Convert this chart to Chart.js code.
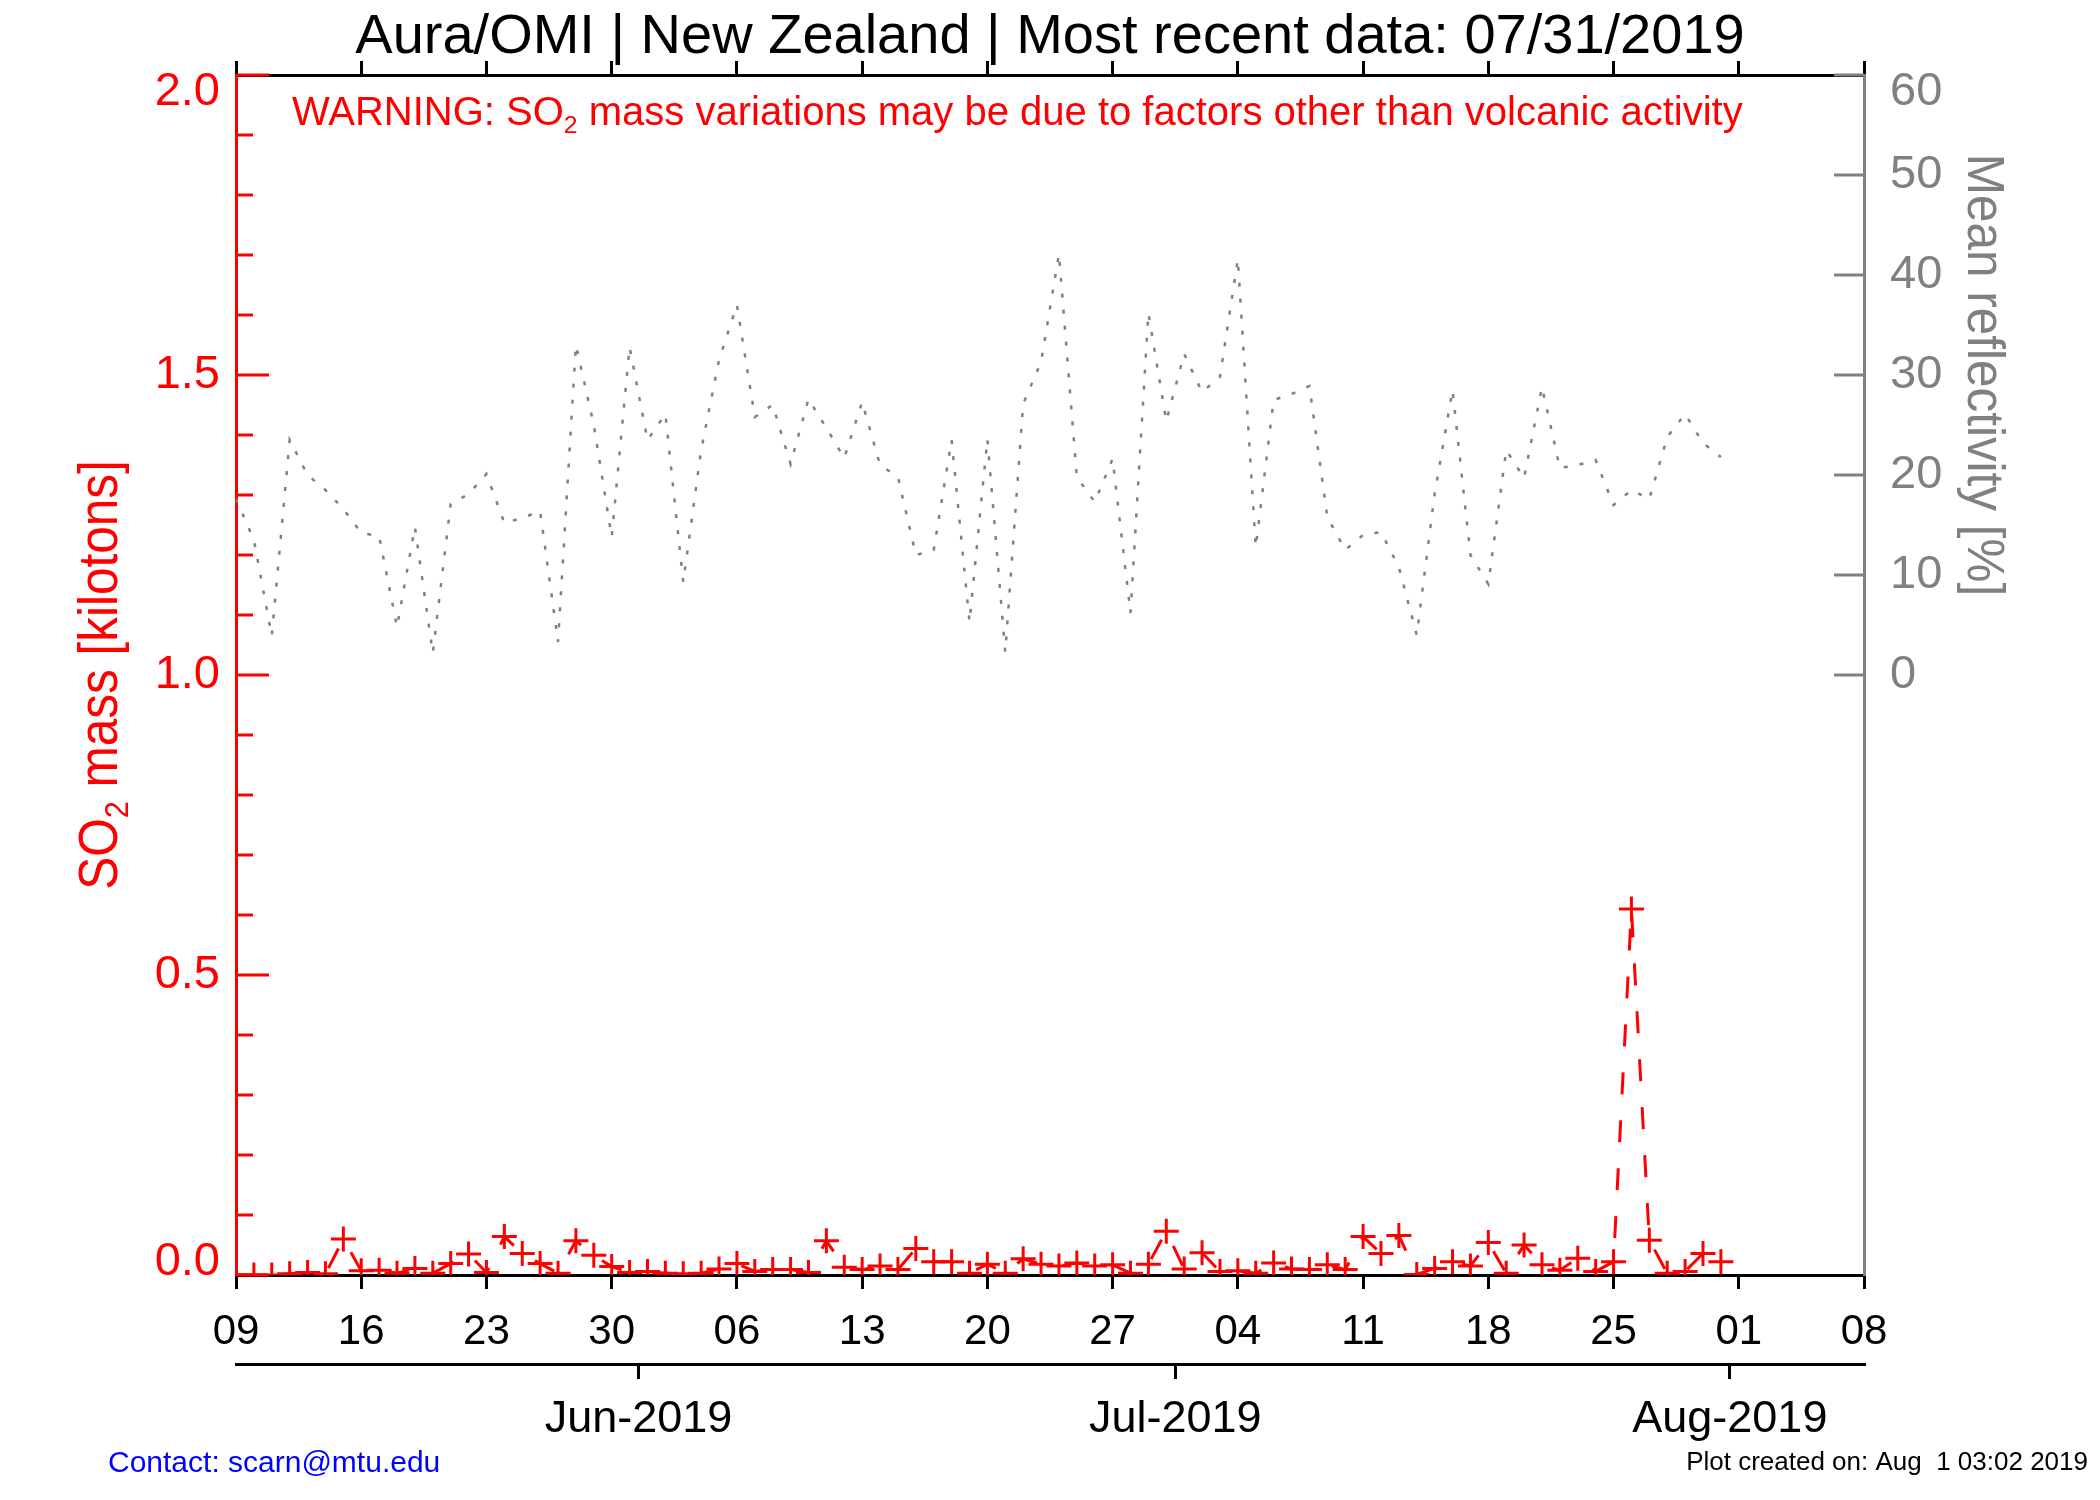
<!DOCTYPE html>
<html>
<head>
<meta charset="utf-8">
<script src="https://cdn.jsdelivr.net/npm/chart.js@4.4.1/dist/chart.umd.min.js"></script>
<style>
  html, body { margin: 0; padding: 0; background: #fff; }
  #wrap { width: 2100px; height: 1500px; }
</style>
</head>
<body>
<div id="wrap"><canvas id="so2Chart" width="2100" height="1500"></canvas></div>
<script>
// daily values, first day = 09 May 2019
const startDate = [2019, 4, 9];
const so2Mass = [0.0, 0.0, 0.0, 0.002, 0.004, 0.002, 0.060, 0.007, 0.008, 0.003,
  0.011, 0.003, 0.019, 0.035, 0.004, 0.064, 0.036, 0.019, 0.003, 0.057,
  0.033, 0.014, 0.004, 0.006, 0.003, 0.002, 0.003, 0.010, 0.019, 0.006,
  0.009, 0.009, 0.004, 0.057, 0.013, 0.009, 0.015, 0.009, 0.044, 0.022,
  0.022, 0.003, 0.018, 0.003, 0.027, 0.018, 0.015, 0.020, 0.015, 0.017,
  0.003, 0.018, 0.073, 0.010, 0.037, 0.006, 0.007, 0.003, 0.020, 0.010,
  0.009, 0.017, 0.009, 0.064, 0.036, 0.066, 0.001, 0.011, 0.022, 0.015,
  0.054, 0.003, 0.050, 0.017, 0.008, 0.028, 0.006, 0.022, 0.610, 0.058,
  0.003, 0.006, 0.036, 0.022];
const reflectivity = [17.6, 13.5, 3.9, 23.5, 20.0, 18.5, 16.6, 14.2, 13.9, 4.8,
  14.8, 2.2, 17.1, 18.1, 20.1, 15.2, 15.7, 16.4, 3.3, 33.0,
  25.0, 13.8, 32.8, 23.5, 26.1, 9.3, 22.5, 31.5, 37.0, 25.8,
  27.0, 21.1, 27.6, 24.7, 21.7, 27.3, 21.0, 19.8, 12.0, 12.5,
  23.5, 5.3, 23.6, 2.3, 27.1, 31.3, 42.1, 19.8, 17.3, 21.6,
  6.2, 36.2, 25.4, 32.1, 28.3, 29.8, 41.6, 12.8, 27.5, 28.1,
  28.9, 15.8, 12.5, 14.0, 14.3, 10.8, 4.0, 18.1, 28.5, 12.0,
  9.1, 22.5, 19.7, 28.8, 20.7, 21.0, 21.5, 17.0, 18.5, 17.6,
  23.8, 26.1, 23.2, 21.8];
const dayIndex = so2Mass.map((_, i) => i);

// axis ticks (days since start)
const dayRange = [0, 91];
const monthTicks = [22.5, 52.5, 83.5];
const monthLabels = ['Jun-2019', 'Jul-2019', 'Aug-2019'];
const reflTicks = [0, 10, 20, 30, 40, 50, 60];

const FONT = '"Liberation Sans", Arial, sans-serif';
const RED = '#ff0000';
const GREY = '#808080';

function dayLabel(v) {
  const d = new Date(startDate[0], startDate[1], startDate[2] + v);
  return String(d.getDate()).padStart(2, '0');
}

// text with a subscript part, drawn at origin of the current transform
function richText(ctx, parts, size, color, align, squeeze) {
  const sub = size * 0.62;
  const ws = [];
  let w = 0;
  parts.forEach(([t, isSub]) => {
    ctx.font = (isSub ? sub : size) + 'px ' + FONT;
    const m = ctx.measureText(t).width;
    ws.push(m); w += m;
  });
  ctx.save();
  ctx.scale(squeeze || 1, 1);
  let x = align === 'center' ? -w / 2 : align === 'right' ? -w : 0;
  ctx.fillStyle = color;
  ctx.textAlign = 'left';
  ctx.textBaseline = 'alphabetic';
  parts.forEach(([t, isSub], i) => {
    ctx.font = (isSub ? sub : size) + 'px ' + FONT;
    ctx.fillText(t, x, isSub ? size * 0.2 : 0);
    x += ws[i];
  });
  ctx.restore();
}

const decor = {
  id: 'decor',
  afterDraw(chart) {
    const ctx = chart.ctx;
    const area = chart.chartArea;
    const y = chart.scales.y;
    const y2 = chart.scales.y2;
    ctx.save();

    // left axis: ticks point inward, long ones every 0.5
    ctx.strokeStyle = RED;
    ctx.lineWidth = 3;
    ctx.fillStyle = RED;
    ctx.font = '47px ' + FONT;
    ctx.textAlign = 'right';
    ctx.textBaseline = 'middle';
    y.ticks.forEach((t, i) => {
      const py = y.getPixelForValue(t.value);
      const major = Math.abs(t.value * 2 - Math.round(t.value * 2)) < 1e-6;
      ctx.beginPath();
      ctx.moveTo(area.left, py);
      ctx.lineTo(area.left + (major ? 33 : 17), py);
      ctx.stroke();
      if (major) {
        let off = 0;
        if (i === 0) off = -13;
        if (i === y.ticks.length - 1) off = 17;
        ctx.fillText(t.value.toFixed(1), area.left - 16, py + off);
      }
    });

    // right axis
    ctx.strokeStyle = GREY;
    ctx.fillStyle = GREY;
    ctx.textAlign = 'left';
    y2.ticks.forEach((t, i) => {
      const py = y2.getPixelForValue(t.value);
      ctx.beginPath();
      ctx.moveTo(area.right, py);
      ctx.lineTo(area.right - 30, py);
      ctx.stroke();
      const off = i === y2.ticks.length - 1 ? 17 : 0;
      ctx.fillText(String(t.value), area.right + 26, py + off);
    });

    // title and warning
    ctx.save();
    ctx.translate(1050, 53);
    richText(ctx, [['Aura/OMI | New Zealand | Most recent data: 07/31/2019', false]], 56, '#000', 'center');
    ctx.restore();

    ctx.save();
    ctx.translate(292, 125);
    richText(ctx, [['WARNING: SO', false], ['2', true],
      [' mass variations may be due to factors other than volcanic activity', false]], 40, RED, 'left');
    ctx.restore();

    // axis titles
    ctx.save();
    ctx.translate(117, (area.top + area.bottom) / 2);
    ctx.rotate(-Math.PI / 2);
    richText(ctx, [['SO', false], ['2', true], [' mass [kilotons]', false]], 55, RED, 'center', 0.9);
    ctx.restore();

    ctx.save();
    const r0 = y2.getPixelForValue(0), r60 = y2.getPixelForValue(60);
    ctx.translate(1968, (r0 + r60) / 2);
    ctx.rotate(Math.PI / 2);
    richText(ctx, [['Mean reflectivity [%]', false]], 51, GREY, 'center', 0.97);
    ctx.restore();

    // footer
    ctx.save();
    ctx.translate(108, 1472);
    richText(ctx, [['Contact: scarn@mtu.edu', false]], 30, '#0000ff', 'left');
    ctx.restore();
    ctx.save();
    ctx.translate(2088, 1470);
    richText(ctx, [['Plot created on: Aug  1 03:02 2019', false]], 26, '#000', 'right');
    ctx.restore();

    ctx.restore();
  }
};

const so2Chart = new Chart(document.getElementById('so2Chart'), {
  type: 'line',
  data: {
    datasets: [{
      label: 'SO2 mass',
      data: dayIndex.map((d, i) => ({ x: d, y: so2Mass[i] })),
      xAxisID: 'x',
      yAxisID: 'y',
      borderColor: RED,
      borderWidth: 3,
      borderDash: [22, 26],
      pointStyle: 'cross',
      pointRadius: 12.5,
      pointBorderWidth: 3,
      pointBorderColor: RED,
      tension: 0
    }, {
      label: 'Mean reflectivity',
      data: dayIndex.map((d, i) => ({ x: d, y: reflectivity[i] })),
      xAxisID: 'x',
      yAxisID: 'y2',
      borderColor: GREY,
      borderWidth: 2.5,
      borderDash: [4, 12],
      pointRadius: 0,
      tension: 0
    }]
  },
  options: {
    responsive: false,
    animation: false,
    devicePixelRatio: 1,
    layout: { padding: { top: 61, left: 0, right: 0, bottom: 0 } },
    plugins: { legend: { display: false }, tooltip: { enabled: false }, title: { display: false } },
    scales: {
      x: {
        type: 'linear', position: 'bottom', min: dayRange[0], max: dayRange[1],
        ticks: { stepSize: 7, color: '#000', font: { family: FONT, size: 42 }, padding: 18,
          maxRotation: 0, autoSkip: false, callback: v => dayLabel(v) },
        grid: { drawOnChartArea: false, tickLength: 14, color: '#000', lineWidth: 3 },
        border: { color: '#000', width: 3 },
        afterFit: s => { s.height = 89; }
      },
      xMonth: {
        type: 'linear', position: 'bottom', min: dayRange[0], max: dayRange[1],
        afterBuildTicks: s => { s.ticks = monthTicks.map(v => ({ value: v })); },
        ticks: { color: '#000', font: { family: FONT, size: 45 }, padding: 14, maxRotation: 0, autoSkip: false,
          callback: (v, i) => monthLabels[i] },
        grid: { drawOnChartArea: false, tickLength: 15, color: '#000', lineWidth: 3 },
        border: { color: '#000', width: 3 },
        afterFit: s => { s.height = 136; }
      },
      xTop: {
        type: 'linear', position: 'top', min: dayRange[0], max: dayRange[1],
        ticks: { stepSize: 7, display: false },
        grid: { drawOnChartArea: false, tickLength: 14, color: '#000', lineWidth: 3 },
        border: { color: '#000', width: 3 },
        afterFit: s => { s.height = 14; }
      },
      y: {
        position: 'left', min: 0, max: 2,
        ticks: { stepSize: 0.1, display: false },
        grid: { display: false },
        border: { color: RED, width: 3 },
        afterFit: s => { s.width = 236; }
      },
      y2: {
        position: 'right', min: -60, max: 60,
        afterBuildTicks: s => { s.ticks = reflTicks.map(v => ({ value: v })); },
        ticks: { display: false },
        grid: { display: false },
        border: { color: GREY, width: 3 },
        afterFit: s => { s.width = 236; }
      }
    }
  },
  plugins: [decor]
});
</script>
</body>
</html>
